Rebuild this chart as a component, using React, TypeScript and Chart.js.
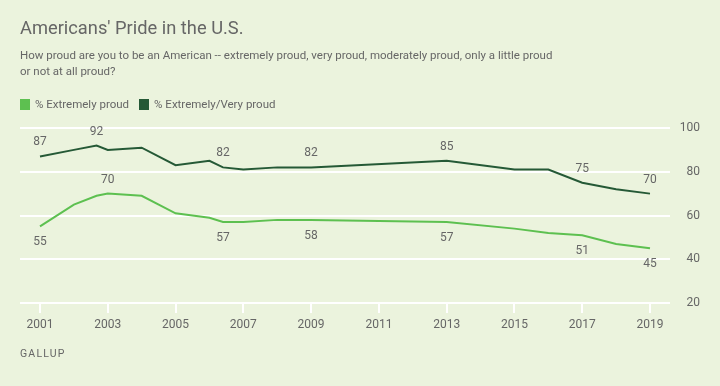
import React, { useEffect, useRef } from "react";
import { Chart, registerables } from "chart.js";

Chart.register(...registerables);

const years = [2001, 2002, 2002.67, 2003, 2004, 2005, 2006, 2006.4, 2007, 2008, 2009, 2013, 2015, 2016, 2017, 2018, 2019];
const extremelyProud = [55, 65, 69, 70, 69, 61, 59, 57, 57, 58, 58, 57, 54, 52, 51, 47, 45];
const extremelyVeryProud = [87, 90, 92, 90, 91, 83, 85, 82, 81, 82, 82, 85, 81, 81, 75, 72, 70];
const lightLabelYears = [2001, 2003, 2006.4, 2009, 2013, 2017, 2019];
const lightLabelAboveYears = [2003];
const darkLabelYears = [2001, 2002.67, 2006.4, 2009, 2013, 2017, 2019];
const xTickYears = [2001, 2003, 2005, 2007, 2009, 2011, 2013, 2015, 2017, 2019];
const yTicks = [20, 40, 60, 80, 100];

const LIGHT = "#5dc050";
const DARK = "#255936";
const TEXT = "#666666";
const BG = "#ebf3dd";
const FONT = "Roboto, sans-serif";

const labelPlugin = {
  id: "pointLabels",
  afterDatasetsDraw(chart: any) {
    const ctx = chart.ctx;
    ctx.save();
    ctx.font = `12px ${FONT}`;
    ctx.fillStyle = TEXT;
    ctx.textAlign = "center";
    ctx.textBaseline = "middle";
    chart.data.datasets.forEach((ds: any, di: number) => {
      const meta = chart.getDatasetMeta(di);
      const labelYears: number[] = ds.labelYears;
      const above: number[] = ds.aboveYears;
      meta.data.forEach((pt: any, i: number) => {
        const year = ds.data[i].x;
        if (!labelYears.includes(year)) return;
        const isAbove = above.includes(year);
        const y = isAbove ? pt.y - 14 : pt.y + 16;
        ctx.fillText(String(ds.data[i].y), pt.x, y);
      });
    });
    ctx.restore();
  },
};

export default function App() {
  const ref = useRef<HTMLCanvasElement | null>(null);
  useEffect(() => {
    if (!ref.current) return;
    const chart = new Chart(ref.current, {
      type: "line",
      data: {
        datasets: [
          {
            label: "% Extremely proud",
            data: years.map((x, i) => ({ x, y: extremelyProud[i] })),
            borderColor: LIGHT,
            backgroundColor: LIGHT,
            borderWidth: 2,
            pointRadius: 0,
            tension: 0,
            labelYears: lightLabelYears,
            aboveYears: lightLabelAboveYears,
          } as any,
          {
            label: "% Extremely/Very proud",
            data: years.map((x, i) => ({ x, y: extremelyVeryProud[i] })),
            borderColor: DARK,
            backgroundColor: DARK,
            borderWidth: 2,
            pointRadius: 0,
            tension: 0,
            labelYears: darkLabelYears,
            aboveYears: darkLabelYears,
          } as any,
        ],
      },
      options: {
        animation: false,
        responsive: false,
        layout: { padding: { left: 20, top: 128, right: 20, bottom: 43 } },
        plugins: { legend: { display: false }, tooltip: { enabled: false } },
        scales: {
          x: {
            type: "linear",
            min: 2000.41,
            max: 2019.59,
            afterBuildTicks: (scale: any) => {
              scale.ticks = xTickYears.map((v) => ({ value: v }));
            },
            afterFit: (scale: any) => {
              scale.height = 40;
            },
            grid: {
              drawOnChartArea: false,
              drawTicks: true,
              tickLength: 10,
              color: "#ffffff",
              lineWidth: 2,
            },
            border: { display: false },
            ticks: {
              autoSkip: false,
              maxRotation: 0,
              padding: 5,
              color: TEXT,
              font: { family: FONT, size: 12 },
              callback: (v: any) => String(v),
            },
          },
          y: {
            position: "right",
            min: 20,
            max: 100,
            afterBuildTicks: (scale: any) => {
              scale.ticks = yTicks.map((v) => ({ value: v }));
            },
            afterFit: (scale: any) => {
              scale.width = 30;
            },
            grid: { color: "#ffffff", lineWidth: 2, drawTicks: false },
            border: { display: false },
            ticks: {
              crossAlign: "far",
              padding: 11,
              color: TEXT,
              font: { family: FONT, size: 12 },
            },
          },
        },
      },
      plugins: [labelPlugin],
    });
    return () => chart.destroy();
  }, []);

  return (
    <div
      style={{
        position: "absolute",
        left: 0,
        top: 0,
        width: 720,
        height: 386,
        background: BG,
        fontFamily: FONT,
        color: TEXT,
        overflow: "hidden",
      }}
    >
      <canvas ref={ref} width={720} height={386} style={{ position: "absolute", left: 0, top: 0 }} />
      <div style={{ position: "absolute", left: 20, top: 15, fontSize: 18.3, lineHeight: "26px", whiteSpace: "nowrap" }}>
        Americans' Pride in the U.S.
      </div>
      <div style={{ position: "absolute", left: 20, top: 47, fontSize: 11.5, lineHeight: "16px", whiteSpace: "nowrap" }}>
        How proud are you to be an American -- extremely proud, very proud, moderately proud, only a little proud
        <br />
        or not at all proud?
      </div>
      <div style={{ position: "absolute", left: 20, top: 96, display: "flex", alignItems: "center", fontSize: 11.5, lineHeight: "16px", whiteSpace: "nowrap" }}>
        <span style={{ width: 10, height: 11, background: LIGHT, display: "inline-block", marginRight: 5 }} />
        <span style={{ marginRight: 10 }}>% Extremely proud</span>
        <span style={{ width: 10, height: 11, background: DARK, display: "inline-block", marginRight: 5 }} />
        <span>% Extremely/Very proud</span>
      </div>
      <div style={{ position: "absolute", left: 20, top: 347, fontSize: 10.5, letterSpacing: 1.2, lineHeight: "14px" }}>
        GALLUP
      </div>
    </div>
  );
}
